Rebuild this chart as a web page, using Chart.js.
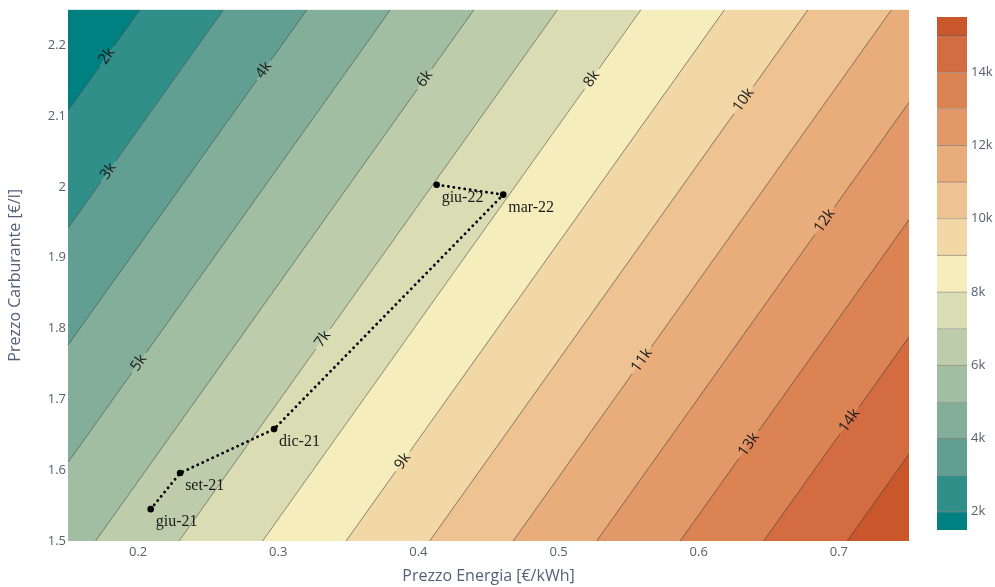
<!DOCTYPE html>
<html>
<head>
<meta charset="utf-8">
<script src="https://cdn.jsdelivr.net/npm/chart.js@4/dist/chart.umd.min.js"></script>
<style>
  html, body { margin: 0; padding: 0; background: #ffffff; }
  #wrap { position: relative; width: 995px; height: 587px; overflow: hidden; }
  #main { position: absolute; left: 0; top: 0; }
  #scale { position: absolute; left: 930px; top: 0; }
</style>
</head>
<body>
<div id="wrap">
  <canvas id="main" width="995" height="587"></canvas>
  <canvas id="scale" width="65" height="587"></canvas>
</div>
<script>
// Cost surface sampled on the corners of the price grid (€)
const energyGrid = [0.15, 0.75];          // Prezzo Energia [€/kWh]
const fuelGrid = [1.5, 2.25];             // Prezzo Carburante [€/l]
const costGrid = [                        // rows follow fuelGrid, columns energyGrid
  [5670, 15740],
  [1140, 11210]
];

// Contour levels and the colour ramp used for the bands
const levels = [2000, 3000, 4000, 5000, 6000, 7000, 8000, 9000, 10000, 11000, 12000, 13000, 14000, 15000];
const rampStops = [
  [0, 128, 128], [112, 164, 148], [180, 200, 168], [246, 237, 189],
  [237, 187, 138], [222, 138, 90], [202, 86, 44]
];

// Observed price pairs by month
const months = ['giu-21', 'set-21', 'dic-21', 'mar-22', 'giu-22'];
const energyPrice = [0.209, 0.230, 0.297, 0.4605, 0.413];
const fuelPrice = [1.545, 1.596, 1.658, 1.989, 2.003];

// Axis ticks
const xTicks = [0.2, 0.3, 0.4, 0.5, 0.6, 0.7];
const yTicks = [1.5, 1.6, 1.7, 1.8, 1.9, 2, 2.1, 2.2];
const scaleTicks = [2000, 4000, 6000, 8000, 10000, 12000, 14000];

// ---------- helpers ----------
function costAt(x, y) {
  const u = (x - energyGrid[0]) / (energyGrid[1] - energyGrid[0]);
  const v = (y - fuelGrid[0]) / (fuelGrid[1] - fuelGrid[0]);
  return costGrid[0][0] * (1 - u) * (1 - v) + costGrid[0][1] * u * (1 - v) +
         costGrid[1][0] * (1 - u) * v + costGrid[1][1] * u * v;
}
function rampColor(t) {
  const n = rampStops.length - 1;
  const p = Math.min(Math.max(t, 0), 1) * n;
  const i = Math.min(Math.floor(p), n - 1);
  const f = p - i;
  const a = rampStops[i], b = rampStops[i + 1];
  const c = a.map((v, k) => Math.round(v + (b[k] - v) * f));
  return `rgb(${c[0]},${c[1]},${c[2]})`;
}
// bands: below first level, between levels, above last level
const bands = [];
for (let j = 0; j <= levels.length; j++) {
  bands.push({
    lo: j === 0 ? -Infinity : levels[j - 1],
    hi: j === levels.length ? Infinity : levels[j],
    color: rampColor(j / levels.length)
  });
}
function clipPoly(poly, f) {
  const out = [];
  for (let i = 0; i < poly.length; i++) {
    const a = poly[i], b = poly[(i + 1) % poly.length];
    const fa = f(a), fb = f(b);
    if (fa >= 0) out.push(a);
    if ((fa >= 0) !== (fb >= 0)) {
      const t = fa / (fa - fb);
      out.push({ x: a.x + t * (b.x - a.x), y: a.y + t * (b.y - a.y) });
    }
  }
  return out;
}
function gridRect() {
  return [
    { x: energyGrid[0], y: fuelGrid[0] }, { x: energyGrid[1], y: fuelGrid[0] },
    { x: energyGrid[1], y: fuelGrid[1] }, { x: energyGrid[0], y: fuelGrid[1] }
  ];
}
function levelCrossings(level) {
  const rect = gridRect();
  const pts = [];
  for (let i = 0; i < rect.length; i++) {
    const a = rect[i], b = rect[(i + 1) % rect.length];
    const fa = costAt(a.x, a.y) - level, fb = costAt(b.x, b.y) - level;
    if ((fa >= 0) !== (fb >= 0)) {
      const t = fa / (fa - fb);
      pts.push({ x: a.x + t * (b.x - a.x), y: a.y + t * (b.y - a.y) });
    }
  }
  return pts;
}
const fmtK = v => (v / 1000) + 'k';

// ---------- contour layer ----------
const contourLayer = {
  id: 'contourLayer',
  beforeDatasetsDraw(chart, args, opts) {
    const { ctx, chartArea, scales: { x, y } } = chart;
    ctx.save();
    ctx.beginPath();
    ctx.rect(chartArea.left, chartArea.top, chartArea.right - chartArea.left, chartArea.bottom - chartArea.top);
    ctx.clip();
    // filled bands
    bands.forEach(b => {
      let poly = gridRect();
      if (isFinite(b.lo)) poly = clipPoly(poly, p => costAt(p.x, p.y) - b.lo);
      if (isFinite(b.hi)) poly = clipPoly(poly, p => b.hi - costAt(p.x, p.y));
      if (poly.length < 3) return;
      ctx.beginPath();
      poly.forEach((p, i) => {
        const px = x.getPixelForValue(p.x), py = y.getPixelForValue(p.y);
        i ? ctx.lineTo(px, py) : ctx.moveTo(px, py);
      });
      ctx.closePath();
      ctx.fillStyle = b.color;
      ctx.fill();
      ctx.strokeStyle = b.color;
      ctx.lineWidth = 0.6;
      ctx.stroke();
    });
    // contour lines with labels
    ctx.font = opts.labelFont;
    ctx.textAlign = 'center';
    ctx.textBaseline = 'middle';
    levels.forEach(level => {
      const pts = levelCrossings(level);
      if (pts.length < 2) return;
      let ends = pts.slice(0, 2).map(p => ({ px: x.getPixelForValue(p.x), py: y.getPixelForValue(p.y) }));
      ends.sort((a, b) => a.py - b.py);
      const [top, bot] = ends;
      const dx = top.px - bot.px, dy = top.py - bot.py;
      const len = Math.hypot(dx, dy);
      const ux = dx / len, uy = dy / len;
      const along = opts.labelAlong[level];
      ctx.strokeStyle = opts.lineColor;
      ctx.lineWidth = opts.lineWidth;
      if (along === undefined) {
        ctx.beginPath(); ctx.moveTo(top.px, top.py); ctx.lineTo(bot.px, bot.py); ctx.stroke();
        return;
      }
      const cx = top.px + (bot.px - top.px) * along;
      const cy = top.py + (bot.py - top.py) * along;
      const text = fmtK(level);
      const half = ctx.measureText(text).width / 2 + 4;
      ctx.beginPath();
      ctx.moveTo(top.px, top.py); ctx.lineTo(cx + ux * half, cy + uy * half);
      ctx.moveTo(cx - ux * half, cy - uy * half); ctx.lineTo(bot.px, bot.py);
      ctx.stroke();
      ctx.save();
      ctx.translate(cx, cy);
      ctx.rotate(Math.atan2(dy, dx));
      ctx.fillStyle = opts.labelColor;
      ctx.fillText(text, 0, 0);
      ctx.restore();
    });
    ctx.restore();
  },
  afterDatasetsDraw(chart, args, opts) {
    const { ctx } = chart;
    const meta = chart.getDatasetMeta(0);
    ctx.save();
    ctx.font = opts.pointFont;
    ctx.fillStyle = '#1a1a1a';
    ctx.textAlign = 'left';
    ctx.textBaseline = 'middle';
    meta.data.forEach((el, i) => {
      ctx.fillText(months[i], el.x + 5, el.y + 13);
    });
    ctx.restore();
  }
};

const tickColor = '#58606b';
const titleColor = '#55617a';

new Chart(document.getElementById('main'), {
  type: 'scatter',
  data: {
    datasets: [{
      data: energyPrice.map((e, i) => ({ x: e, y: fuelPrice[i] })),
      showLine: true,
      borderColor: '#000000',
      borderWidth: 2.8,
      borderDash: [0.1, 5.4],
      borderCapStyle: 'round',
      pointRadius: 3.3,
      pointBackgroundColor: '#000000',
      pointBorderWidth: 0,
      clip: false
    }]
  },
  plugins: [contourLayer],
  options: {
    responsive: false,
    animation: false,
    events: [],
    layout: { padding: { left: 0, top: 7, right: 86, bottom: 0 } },
    plugins: {
      legend: { display: false },
      tooltip: { enabled: false },
      contourLayer: {
        labelFont: '15px "Open Sans"',
        labelColor: '#1c1c1c',
        lineColor: 'rgba(50,50,50,0.6)',
        lineWidth: 0.9,
        pointFont: '16px "Liberation Serif"',
        labelAlong: {
          2000: 0.46, 3000: 0.74, 4000: 0.18, 5000: 0.78, 6000: 0.13, 7000: 0.62,
          8000: 0.13, 9000: 0.85, 10000: 0.17, 11000: 0.66, 12000: 0.27, 13000: 0.70, 14000: 0.41
        }
      }
    },
    scales: {
      x: {
        type: 'linear',
        min: energyGrid[0],
        max: energyGrid[1],
        afterBuildTicks: s => { s.ticks = xTicks.map(v => ({ value: v })); },
        afterFit: s => { s.height = 46; },
        grid: { display: false, drawTicks: false },
        border: { display: false },
        ticks: { color: tickColor, font: { family: 'Open Sans', size: 13 }, padding: 3, callback: v => String(v) },
        title: { display: true, text: 'Prezzo Energia [€/kWh]', color: titleColor,
                 font: { family: 'Open Sans', size: 16 }, padding: { top: 0, bottom: 0.5 } }
      },
      y: {
        type: 'linear',
        min: fuelGrid[0],
        max: fuelGrid[1],
        afterBuildTicks: s => { s.ticks = yTicks.map(v => ({ value: v })); },
        afterFit: s => { s.width = 68; },
        grid: { display: false, drawTicks: false },
        border: { display: false },
        ticks: { color: tickColor, font: { family: 'Open Sans', size: 13 }, padding: 2, callback: v => String(v) },
        title: { display: true, text: 'Prezzo Carburante [€/l]', color: titleColor,
                 font: { family: 'Open Sans', size: 16 }, padding: { top: 6, bottom: 0 } }
      }
    }
  }
});

// ---------- colour scale ----------
const half = (levels[1] - levels[0]) / 2;
const scaleMin = levels[0] - half;
const scaleMax = levels[levels.length - 1] + half;
new Chart(document.getElementById('scale'), {
  type: 'bar',
  data: {
    labels: [''],
    datasets: bands.map((b, j) => ({
      data: [[isFinite(b.lo) ? b.lo : scaleMin, isFinite(b.hi) ? b.hi : scaleMax]],
      backgroundColor: b.color,
      borderColor: 'rgba(60,40,30,0.5)',
      borderWidth: { top: isFinite(b.hi) ? 1 : 0, bottom: 0, left: 0, right: 0 },
      borderSkipped: false,
      grouped: false,
      barPercentage: 1,
      categoryPercentage: 1
    }))
  },
  options: {
    responsive: false,
    animation: false,
    events: [],
    layout: { padding: { left: 7, top: 17, right: 0, bottom: 57 } },
    plugins: { legend: { display: false }, tooltip: { enabled: false } },
    scales: {
      x: { display: false },
      y: {
        position: 'right',
        min: scaleMin,
        max: scaleMax,
        afterBuildTicks: s => { s.ticks = scaleTicks.map(v => ({ value: v })); },
        afterFit: s => { s.width = 28; },
        grid: { display: false, drawTicks: false },
        border: { display: false },
        ticks: { color: tickColor, font: { family: 'Open Sans', size: 13 }, padding: 4, callback: v => fmtK(v) }
      }
    }
  }
});
</script>
</body>
</html>
